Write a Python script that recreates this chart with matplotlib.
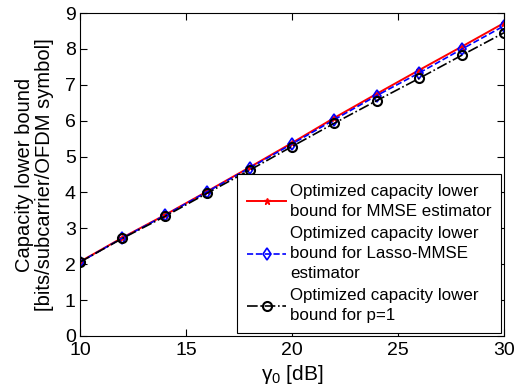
import matplotlib
matplotlib.use("Agg")
import matplotlib.pyplot as plt

plt.rcParams['font.family'] = ['Liberation Sans', 'DejaVu Sans']
plt.rcParams['mathtext.fontset'] = 'custom'
plt.rcParams['mathtext.rm'] = 'Liberation Sans'
plt.rcParams['mathtext.it'] = 'Liberation Sans'

snr_db = [10, 12, 14, 16, 18, 20, 22, 24, 26, 28, 30]
cap_mmse = [2.07, 2.74, 3.37, 4.03, 4.70, 5.38, 6.08, 6.75, 7.41, 8.06, 8.72]
cap_lasso = [2.06, 2.73, 3.36, 4.02, 4.68, 5.35, 6.03, 6.70, 7.33, 7.99, 8.64]
cap_p1 = [2.06, 2.72, 3.33, 3.98, 4.62, 5.28, 5.93, 6.56, 7.18, 7.82, 8.45]

labels = ["Optimized capacity lower\nbound for MMSE estimator",
          "Optimized capacity lower\nbound for Lasso-MMSE\nestimator",
          "Optimized capacity lower\nbound for p=1"]
xticks = [10, 15, 20, 25, 30]
yticks = [0, 1, 2, 3, 4, 5, 6, 7, 8, 9]

fig = plt.figure(figsize=(5.23, 3.91), dpi=100)
ax = fig.add_axes([80 / 523, 55 / 391, 424 / 523, 323 / 391])

ax.plot(snr_db, cap_mmse, color='red', linestyle='-', linewidth=1.4,
        marker='*', markersize=5, label=labels[0])
ax.plot(snr_db, cap_lasso, color='blue', linestyle='--', linewidth=1.2,
        marker='d', markersize=6, markerfacecolor='none', markeredgewidth=1.2, label=labels[1])
ax.plot(snr_db, cap_p1, color='black', linestyle='-.', linewidth=1.2,
        marker='o', markersize=6.5, markerfacecolor='none', markeredgewidth=1.5, label=labels[2])

ax.set_xlim(10, 30)
ax.set_ylim(0, 9)
ax.set_xticks(xticks)
ax.set_yticks(yticks)
ax.tick_params(direction='in', top=True, right=True, labelsize=14, length=5, pad=3)
ax.tick_params(axis='x', pad=4)
for s in ax.spines.values():
    s.set_linewidth(0.8)

ax.set_xlabel(r'$\gamma_0$ [dB]', fontsize=15, labelpad=3)
ax.set_ylabel('Capacity lower bound\n[bits/subcarrier/OFDM symbol]', fontsize=14.5,
              labelpad=8, linespacing=1.05)

leg = ax.legend(loc='lower right', fontsize=12.2, frameon=True, fancybox=False,
                edgecolor='black', framealpha=1, borderaxespad=0.15,
                handlelength=2.3, handletextpad=0.2, labelspacing=0.45,
                borderpad=0.6)
for t in leg.get_texts():
    t.set_linespacing(1.4)
leg.get_frame().set_linewidth(0.8)

fig.savefig('out.png', dpi=100)
